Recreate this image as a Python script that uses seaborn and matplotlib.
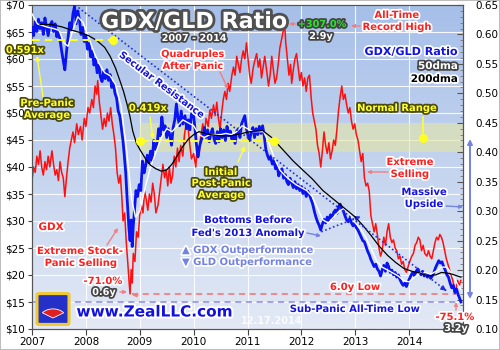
import numpy as np
import pandas as pd
import matplotlib
matplotlib.use("Agg")
import matplotlib.pyplot as plt
import matplotlib.patheffects as pe
from matplotlib.patches import Rectangle, FancyBboxPatch, Wedge
from matplotlib.colors import LinearSegmentedColormap
from matplotlib.ticker import MultipleLocator
import seaborn as sns

# ---------------- data ----------------
GDX_YEAR = [2007.00, 2007.03, 2007.06, 2007.09, 2007.12, 2007.15, 2007.18, 2007.21, 2007.24, 2007.27,
            2007.30, 2007.33, 2007.37, 2007.40, 2007.43, 2007.46, 2007.49, 2007.52, 2007.55, 2007.58,
            2007.61, 2007.64, 2007.67, 2007.70, 2007.73, 2007.76, 2007.79, 2007.83, 2007.86, 2007.90,
            2007.93, 2007.97, 2008.00, 2008.04, 2008.07, 2008.11, 2008.14, 2008.17, 2008.20, 2008.22,
            2008.25, 2008.28, 2008.31, 2008.34, 2008.37, 2008.40, 2008.43, 2008.46, 2008.49, 2008.52,
            2008.55, 2008.58, 2008.61, 2008.64, 2008.67, 2008.69, 2008.72, 2008.75, 2008.78, 2008.80,
            2008.82, 2008.84, 2008.86, 2008.88, 2008.91, 2008.94, 2008.97, 2009.00, 2009.03, 2009.06,
            2009.09, 2009.12, 2009.15, 2009.18, 2009.21, 2009.24, 2009.27, 2009.30, 2009.34, 2009.37,
            2009.40, 2009.43, 2009.46, 2009.49, 2009.52, 2009.55, 2009.58, 2009.61, 2009.64, 2009.67,
            2009.70, 2009.73, 2009.76, 2009.80, 2009.83, 2009.87, 2009.90, 2009.93, 2009.96, 2010.00,
            2010.04, 2010.07, 2010.10, 2010.13, 2010.17, 2010.20, 2010.23, 2010.27, 2010.30, 2010.33,
            2010.37, 2010.40, 2010.43, 2010.46, 2010.49, 2010.52, 2010.55, 2010.58, 2010.61, 2010.64,
            2010.67, 2010.71, 2010.74, 2010.77, 2010.80, 2010.83, 2010.86, 2010.89, 2010.92, 2010.95,
            2010.98, 2011.01, 2011.04, 2011.07, 2011.10, 2011.13, 2011.17, 2011.20, 2011.23, 2011.26,
            2011.29, 2011.32, 2011.36, 2011.39, 2011.42, 2011.45, 2011.48, 2011.51, 2011.54, 2011.57,
            2011.60, 2011.63, 2011.66, 2011.69, 2011.71, 2011.74, 2011.77, 2011.80, 2011.82, 2011.85,
            2011.88, 2011.91, 2011.94, 2011.97, 2012.00, 2012.03, 2012.06, 2012.09, 2012.12, 2012.15,
            2012.18, 2012.21, 2012.24, 2012.27, 2012.30, 2012.33, 2012.36, 2012.39, 2012.42, 2012.45,
            2012.48, 2012.51, 2012.54, 2012.57, 2012.60, 2012.63, 2012.66, 2012.69, 2012.72, 2012.75,
            2012.78, 2012.81, 2012.84, 2012.87, 2012.90, 2012.93, 2012.96, 2012.99, 2013.02, 2013.05,
            2013.08, 2013.11, 2013.14, 2013.17, 2013.20, 2013.23, 2013.26, 2013.29, 2013.32, 2013.35,
            2013.38, 2013.41, 2013.44, 2013.47, 2013.50, 2013.53, 2013.56, 2013.59, 2013.62, 2013.65,
            2013.68, 2013.71, 2013.74, 2013.77, 2013.80, 2013.83, 2013.86, 2013.89, 2013.92, 2013.95,
            2013.98, 2014.01, 2014.05, 2014.08, 2014.11, 2014.14, 2014.17, 2014.20, 2014.23, 2014.26,
            2014.29, 2014.33, 2014.36, 2014.39, 2014.42, 2014.45, 2014.48, 2014.51, 2014.54, 2014.57,
            2014.60, 2014.63, 2014.66, 2014.69, 2014.72, 2014.75, 2014.78, 2014.81, 2014.84, 2014.86,
            2014.88, 2014.90, 2014.93, 2014.96]
GDX_PRICE = [37.5, 40.0, 39.0, 42.0, 40.5, 43.0, 40.0, 38.5, 41.0, 39.5,
             42.0, 40.0, 43.0, 40.5, 38.5, 39.5, 37.5, 41.0, 39.0, 38.0,
             34.5, 38.0, 41.0, 43.5, 45.0, 46.5, 44.5, 48.0, 46.0, 47.5,
             45.0, 49.0, 47.5, 51.0, 50.0, 52.5, 51.0, 55.0, 53.5, 56.0,
             52.0, 49.5, 47.0, 49.0, 47.5, 50.0, 48.5, 51.0, 48.0, 46.0,
             43.5, 39.0, 37.0, 38.5, 34.0, 30.0, 31.5, 26.0, 22.0, 19.0,
             16.5, 21.0, 18.5, 24.0, 22.5, 28.0, 27.0, 31.0, 33.0, 31.5,
             35.5, 34.0, 32.0, 35.0, 33.5, 37.0, 35.0, 31.5, 33.0, 35.5,
             38.0, 40.5, 38.0, 39.5, 36.5, 40.0, 37.0, 38.5, 42.0, 40.0,
             43.5, 41.0, 44.0, 42.0, 46.0, 48.5, 47.0, 44.0, 41.5, 42.5,
             40.0, 44.0, 42.0, 45.5, 48.0, 46.0, 49.0, 47.5, 50.5, 49.0,
             51.5, 49.5, 52.0, 49.0, 47.0, 50.0, 52.5, 54.0, 52.5, 55.5,
             54.0, 57.0, 58.5, 57.0, 60.5, 59.0, 57.5, 60.0, 61.5, 60.0,
             63.0, 60.0, 57.0, 55.5, 58.0, 59.5, 61.0, 58.5, 60.0, 56.5,
             58.5, 60.5, 57.5, 55.0, 57.0, 60.5, 58.0, 55.5, 56.5, 59.0,
             62.0, 63.5, 65.0, 66.3, 63.0, 60.0, 57.0, 59.0, 55.5, 58.0,
             60.0, 61.0, 58.5, 56.0, 57.5, 55.0, 56.5, 54.0, 56.5, 57.0,
             53.0, 50.0, 48.5, 47.0, 44.0, 42.5, 40.0, 43.0, 46.5, 44.0,
             42.5, 44.5, 41.5, 43.0, 45.0, 44.0, 47.0, 50.5, 53.0, 55.0,
             52.5, 53.5, 51.5, 50.0, 51.0, 48.5, 47.0, 48.0, 46.0, 45.0,
             43.0, 41.0, 42.5, 38.0, 36.5, 37.0, 35.5, 31.0, 29.5, 28.0,
             29.5, 27.5, 25.0, 23.5, 24.5, 27.0, 25.5, 28.0, 29.5, 27.0,
             26.0, 26.5, 25.0, 24.5, 23.0, 23.5, 22.0, 22.5, 21.0, 20.5,
             21.5, 22.5, 23.5, 24.0, 25.5, 26.0, 27.0, 26.5, 24.5, 25.5,
             24.0, 23.5, 24.5, 23.5, 23.0, 24.5, 26.0, 27.0, 26.5, 27.5,
             27.0, 26.0, 24.5, 23.0, 22.0, 21.0, 20.0, 19.0, 17.5, 16.5,
             18.0, 19.0, 18.0, 19.0]

RATIO_YEAR = [2007.00, 2007.03, 2007.06, 2007.09, 2007.12, 2007.15, 2007.18, 2007.21, 2007.24, 2007.27,
              2007.30, 2007.33, 2007.37, 2007.40, 2007.43, 2007.46, 2007.49, 2007.52, 2007.55, 2007.58,
              2007.61, 2007.64, 2007.67, 2007.70, 2007.73, 2007.76, 2007.79, 2007.82, 2007.85, 2007.88,
              2007.91, 2007.94, 2007.97, 2008.00, 2008.03, 2008.06, 2008.09, 2008.12, 2008.15, 2008.18,
              2008.21, 2008.24, 2008.27, 2008.30, 2008.33, 2008.36, 2008.39, 2008.42, 2008.45, 2008.48,
              2008.51, 2008.54, 2008.57, 2008.60, 2008.63, 2008.66, 2008.69, 2008.71, 2008.74, 2008.76,
              2008.78, 2008.80, 2008.82, 2008.84, 2008.86, 2008.88, 2008.90, 2008.93, 2008.96, 2008.99,
              2009.02, 2009.05, 2009.08, 2009.11, 2009.14, 2009.17, 2009.20, 2009.23, 2009.26, 2009.29,
              2009.32, 2009.35, 2009.38, 2009.41, 2009.44, 2009.47, 2009.50, 2009.53, 2009.56, 2009.59,
              2009.62, 2009.65, 2009.68, 2009.71, 2009.74, 2009.77, 2009.80, 2009.84, 2009.87, 2009.90,
              2009.93, 2009.96, 2009.99, 2010.02, 2010.05, 2010.08, 2010.11, 2010.14, 2010.17, 2010.20,
              2010.23, 2010.26, 2010.29, 2010.32, 2010.35, 2010.38, 2010.41, 2010.44, 2010.47, 2010.50,
              2010.53, 2010.56, 2010.59, 2010.62, 2010.65, 2010.68, 2010.71, 2010.74, 2010.77, 2010.80,
              2010.83, 2010.86, 2010.89, 2010.92, 2010.95, 2010.98, 2011.01, 2011.04, 2011.07, 2011.10,
              2011.13, 2011.16, 2011.19, 2011.22, 2011.25, 2011.28, 2011.31, 2011.34, 2011.37, 2011.40,
              2011.43, 2011.46, 2011.49, 2011.52, 2011.55, 2011.58, 2011.61, 2011.64, 2011.67, 2011.70,
              2011.73, 2011.76, 2011.79, 2011.82, 2011.85, 2011.88, 2011.91, 2011.94, 2011.97, 2012.00,
              2012.03, 2012.06, 2012.09, 2012.12, 2012.15, 2012.18, 2012.21, 2012.24, 2012.27, 2012.30,
              2012.33, 2012.36, 2012.39, 2012.42, 2012.45, 2012.48, 2012.51, 2012.54, 2012.57, 2012.60,
              2012.63, 2012.66, 2012.69, 2012.72, 2012.75, 2012.78, 2012.81, 2012.84, 2012.87, 2012.90,
              2012.93, 2012.96, 2012.99, 2013.02, 2013.05, 2013.08, 2013.11, 2013.14, 2013.17, 2013.20,
              2013.23, 2013.26, 2013.29, 2013.32, 2013.35, 2013.38, 2013.41, 2013.44, 2013.47, 2013.50,
              2013.53, 2013.56, 2013.59, 2013.62, 2013.65, 2013.68, 2013.71, 2013.74, 2013.77, 2013.80,
              2013.83, 2013.86, 2013.89, 2013.92, 2013.95, 2013.98, 2014.01, 2014.04, 2014.07, 2014.10,
              2014.13, 2014.16, 2014.19, 2014.22, 2014.25, 2014.28, 2014.31, 2014.34, 2014.37, 2014.40,
              2014.43, 2014.46, 2014.49, 2014.52, 2014.55, 2014.58, 2014.61, 2014.64, 2014.67, 2014.70,
              2014.73, 2014.76, 2014.79, 2014.82, 2014.85, 2014.88, 2014.91, 2014.93, 2014.96]
RATIO = [0.612, 0.598, 0.622, 0.605, 0.626, 0.610, 0.620, 0.600, 0.628, 0.612,
         0.598, 0.615, 0.622, 0.605, 0.618, 0.596, 0.606, 0.590, 0.572, 0.555,
         0.540, 0.570, 0.595, 0.620, 0.608, 0.635, 0.648, 0.618, 0.640, 0.625,
         0.600, 0.612, 0.588, 0.598, 0.575, 0.585, 0.562, 0.572, 0.548, 0.558,
         0.535, 0.548, 0.528, 0.520, 0.537, 0.525, 0.540, 0.522, 0.532, 0.510,
         0.518, 0.500, 0.492, 0.470, 0.462, 0.440, 0.418, 0.398, 0.365, 0.330,
         0.300, 0.270, 0.250, 0.285, 0.240, 0.275, 0.300, 0.335, 0.325, 0.345,
         0.335, 0.385, 0.365, 0.378, 0.395, 0.382, 0.402, 0.386, 0.420, 0.405,
         0.412, 0.440, 0.428, 0.460, 0.438, 0.445, 0.425, 0.440, 0.428, 0.412,
         0.442, 0.455, 0.482, 0.458, 0.445, 0.470, 0.448, 0.462, 0.440, 0.455,
         0.438, 0.465, 0.470, 0.445, 0.415, 0.392, 0.410, 0.420, 0.428, 0.442,
         0.425, 0.438, 0.418, 0.432, 0.440, 0.422, 0.415, 0.435, 0.418, 0.440,
         0.425, 0.438, 0.420, 0.444, 0.428, 0.436, 0.422, 0.430, 0.415, 0.436,
         0.440, 0.425, 0.448, 0.455, 0.462, 0.440, 0.428, 0.420, 0.436, 0.442,
         0.425, 0.440, 0.430, 0.444, 0.432, 0.445, 0.428, 0.405, 0.395, 0.388,
         0.392, 0.380, 0.386, 0.372, 0.378, 0.360, 0.368, 0.372, 0.356, 0.362,
         0.350, 0.345, 0.356, 0.348, 0.340, 0.350, 0.338, 0.345, 0.335, 0.342,
         0.330, 0.338, 0.325, 0.334, 0.328, 0.320, 0.312, 0.300, 0.290, 0.282,
         0.276, 0.268, 0.278, 0.286, 0.280, 0.290, 0.284, 0.294, 0.288, 0.298,
         0.302, 0.296, 0.308, 0.312, 0.304, 0.300, 0.292, 0.285, 0.282, 0.288,
         0.280, 0.275, 0.280, 0.272, 0.268, 0.262, 0.256, 0.250, 0.248, 0.240,
         0.232, 0.226, 0.218, 0.212, 0.206, 0.210, 0.202, 0.198, 0.190, 0.200,
         0.208, 0.198, 0.212, 0.206, 0.196, 0.200, 0.192, 0.196, 0.188, 0.192,
         0.184, 0.178, 0.174, 0.178, 0.172, 0.180, 0.186, 0.192, 0.196, 0.190,
         0.198, 0.202, 0.196, 0.192, 0.198, 0.190, 0.194, 0.188, 0.192, 0.186,
         0.190, 0.196, 0.204, 0.210, 0.216, 0.212, 0.214, 0.206, 0.200, 0.192,
         0.188, 0.178, 0.170, 0.174, 0.162, 0.168, 0.158, 0.154, 0.146]

DMA50_YEAR = [2007.00, 2007.10, 2007.20, 2007.30, 2007.40, 2007.50, 2007.60, 2007.67, 2007.75, 2007.85,
              2007.95, 2008.05, 2008.15, 2008.25, 2008.35, 2008.45, 2008.55, 2008.65, 2008.75, 2008.85,
              2008.92, 2009.00, 2009.10, 2009.20, 2009.30, 2009.40, 2009.50, 2009.60, 2009.70, 2009.80,
              2009.90, 2010.00, 2010.10, 2010.20, 2010.30, 2010.40, 2010.50, 2010.60, 2010.70, 2010.80,
              2010.90, 2011.00, 2011.10, 2011.20, 2011.30, 2011.40, 2011.50, 2011.60, 2011.70, 2011.80,
              2011.90, 2012.00, 2012.10, 2012.20, 2012.30, 2012.40, 2012.50, 2012.60, 2012.70, 2012.80,
              2012.90, 2013.00, 2013.10, 2013.20, 2013.30, 2013.40, 2013.50, 2013.60, 2013.70, 2013.80,
              2013.90, 2014.00, 2014.10, 2014.20, 2014.30, 2014.40, 2014.50, 2014.60, 2014.70, 2014.80,
              2014.90, 2014.96]
DMA50 = [0.635, 0.618, 0.615, 0.612, 0.610, 0.607, 0.585, 0.580, 0.605, 0.630,
         0.620, 0.595, 0.570, 0.550, 0.535, 0.530, 0.515, 0.480, 0.410, 0.320,
         0.290, 0.300, 0.340, 0.375, 0.400, 0.425, 0.440, 0.435, 0.445, 0.455,
         0.450, 0.445, 0.430, 0.425, 0.430, 0.430, 0.430, 0.432, 0.430, 0.435,
         0.445, 0.440, 0.435, 0.435, 0.435, 0.415, 0.390, 0.370, 0.360, 0.352,
         0.345, 0.340, 0.335, 0.325, 0.305, 0.285, 0.280, 0.290, 0.300, 0.305,
         0.295, 0.280, 0.270, 0.255, 0.235, 0.215, 0.205, 0.200, 0.195, 0.190,
         0.182, 0.180, 0.188, 0.195, 0.196, 0.193, 0.198, 0.205, 0.205, 0.193,
         0.176, 0.168]

DMA200_YEAR = [2007.15, 2007.35, 2007.55, 2007.75, 2007.90, 2008.05, 2008.20, 2008.35, 2008.45, 2008.55,
               2008.63, 2008.70, 2008.76, 2008.82, 2008.87, 2008.94, 2009.00, 2009.10, 2009.20, 2009.30,
               2009.40, 2009.50, 2009.60, 2009.70, 2009.80, 2009.90, 2010.00, 2010.10, 2010.30, 2010.50,
               2010.70, 2010.90, 2011.05, 2011.20, 2011.28, 2011.45, 2011.65, 2011.85, 2012.00, 2012.20,
               2012.40, 2012.60, 2012.80, 2013.00, 2013.15, 2013.30, 2013.45, 2013.60, 2013.75, 2013.90,
               2014.05, 2014.20, 2014.35, 2014.50, 2014.60, 2014.70, 2014.80, 2014.96]
DMA200 = [0.617, 0.617, 0.613, 0.607, 0.603, 0.598, 0.590, 0.578, 0.563, 0.543,
          0.522, 0.503, 0.483, 0.460, 0.436, 0.415, 0.405, 0.390, 0.378, 0.372,
          0.368, 0.370, 0.380, 0.395, 0.410, 0.422, 0.430, 0.435, 0.430, 0.428,
          0.428, 0.432, 0.435, 0.436, 0.437, 0.425, 0.405, 0.385, 0.372, 0.355,
          0.335, 0.320, 0.305, 0.290, 0.275, 0.258, 0.240, 0.225, 0.213, 0.203,
          0.198, 0.195, 0.190, 0.192, 0.196, 0.195, 0.193, 0.188]

YEAR_TICKS = [2007, 2008, 2009, 2010, 2011, 2012, 2013, 2014]
GDX_TICKS = [10, 15, 20, 25, 30, 35, 40, 45, 50, 55, 60, 65, 70]
GDX_TICK_LABELS = ["$10", "$15", "$20", "$25", "$30", "$35", "$40", "$45", "$50", "$55", "$60", "$65", "$70"]
RATIO_TICKS = [0.10, 0.15, 0.20, 0.25, 0.30, 0.35, 0.40, 0.45, 0.50, 0.55, 0.60, 0.65]
RATIO_TICK_LABELS = ["0.10", "0.15", "0.20", "0.25", "0.30", "0.35", "0.40", "0.45", "0.50", "0.55", "0.60", "0.65"]

PRE_PANIC_AVG = 0.591
POST_PANIC_AVG = 0.419
NORMAL_RANGE = (0.40, 0.45)
GDX_PANIC_LOW = 16.4
RATIO_LOW = 0.146

# ---------------- figure ----------------
W, H = 500, 350
fig = plt.figure(figsize=(5, 3.5), dpi=100)
fig.patch.set_facecolor("white")
ax = fig.add_axes([32 / W, 21 / H, 431 / W, 324 / H])
ax2 = ax.twinx()

cmap = LinearSegmentedColormap.from_list("bg", ["#e3e9f5", "#a6bfe9"])
grad = np.linspace(0, 1, 256).reshape(-1, 1)
ax.imshow(grad, extent=[0, 1, 0, 1], transform=ax.transAxes, cmap=cmap,
          aspect="auto", origin="lower", zorder=0)

ax.set_xlim(2007, 2015)
ax.set_ylim(10, 70)
ax2.set_ylim(0.10, 0.65)
ax.set_axisbelow(True)
ax.grid(True, color="white", lw=0.8, alpha=0.9)

# normal range band
ax.add_patch(Rectangle((2009.0, NORMAL_RANGE[0]), 6, NORMAL_RANGE[1] - NORMAL_RANGE[0],
                       transform=ax2.transData, facecolor="#e4e6a4", alpha=0.6,
                       edgecolor="none", zorder=0.8))

df_gdx = pd.DataFrame({"year": GDX_YEAR, "gdx": GDX_PRICE})
df_ratio = pd.DataFrame({"year": RATIO_YEAR, "ratio": RATIO})
df_50 = pd.DataFrame({"year": DMA50_YEAR, "dma": DMA50})
df_200 = pd.DataFrame({"year": DMA200_YEAR, "dma": DMA200})

# reference dashed lines
ax.plot([2008.86, 2014.86], [GDX_PANIC_LOW, GDX_PANIC_LOW], ls=(0, (4, 3)), color="#f07070", lw=1.1, zorder=2)
ax2.plot([2007.0, 2014.9], [RATIO_LOW, RATIO_LOW], ls=(0, (4, 3)), color="#8a8ae8", lw=1.1, zorder=2)

sns.lineplot(data=df_gdx, x="year", y="gdx", ax=ax, color="#ff1010", lw=1.1, sort=False, zorder=3)
sns.lineplot(data=df_ratio, x="year", y="ratio", ax=ax2, color="#0a14f0", lw=2.0, sort=False, zorder=3)
sns.lineplot(data=df_50, x="year", y="dma", ax=ax2, color="white", lw=1.0, sort=False, zorder=4)
sns.lineplot(data=df_200, x="year", y="dma", ax=ax2, color="black", lw=0.9, sort=False, zorder=4)

# secular resistance dotted line
ax2.plot([2007.80, 2014.69], [0.650, 0.165], ls=(0, (1, 1.5)), color="#2030e0", lw=1.2, zorder=5)
ax2.annotate("", xy=(2014.69, 0.165), xytext=(2014.60, 0.171),
             arrowprops=dict(arrowstyle="-|>", color="#2030e0", lw=1, mutation_scale=7, shrinkA=0, shrinkB=0))
# bottoms dotted line
ax2.plot([2012.37, 2012.7, 2013.06], [0.265, 0.277, 0.289], ls=(0, (1, 1.5)), color="#2030e0", lw=1.2, zorder=5)
ax2.annotate("", xy=(2013.10, 0.291), xytext=(2013.02, 0.288),
             arrowprops=dict(arrowstyle="-|>", color="#2030e0", lw=1, mutation_scale=7, shrinkA=0, shrinkB=0))

# yellow averages
ax2.plot([2007.0, 2008.5], [PRE_PANIC_AVG, PRE_PANIC_AVG], ls=(0, (4, 2.5)), color="#ffff20", lw=1.4, zorder=6)
ax2.plot([2009.0, 2011.5], [POST_PANIC_AVG, POST_PANIC_AVG], ls=(0, (4, 2.5)), color="#ffff20", lw=1.4, zorder=6)
ax2.plot([2008.5, 2009.0, 2011.5, 2014.25], [PRE_PANIC_AVG, POST_PANIC_AVG, POST_PANIC_AVG, 0.4245],
         ls="none", marker="o", ms=5.5, color="#ffff20", zorder=7)

# axes styling
ax.set_xticks(YEAR_TICKS)
ax.set_xticklabels([str(y) for y in YEAR_TICKS])
ax.set_yticks(GDX_TICKS)
ax.set_yticklabels(GDX_TICK_LABELS)
ax2.set_yticks(RATIO_TICKS)
ax2.set_yticklabels(RATIO_TICK_LABELS)
ax2.yaxis.set_minor_locator(MultipleLocator(0.01))
ax.set_xlabel("")
ax.set_ylabel("")
ax2.set_ylabel("")
ax.tick_params(axis="x", direction="out", length=4, labelsize=7.5, pad=2, color="#444")
ax.tick_params(axis="y", direction="out", length=3, labelsize=7.5, pad=2, color="#444")
ax2.tick_params(axis="y", which="major", direction="in", length=4, labelsize=7.5, pad=9, color="#555")
ax2.tick_params(axis="y", which="minor", direction="in", length=2, color="#777")
for a in (ax, ax2):
    for s in a.spines.values():
        s.set_color("#555")
        s.set_linewidth(0.8)


# ---------------- annotations ----------------
def T(x, y, s, color, size=7, stroke="white", sw=2.5, weight="bold", **kw):
    t = fig.text(x / W, 1 - y / H, s, color=color, fontsize=size, fontweight=weight,
                 ha=kw.pop("ha", "center"), va=kw.pop("va", "center"), zorder=10, **kw)
    if stroke:
        t.set_path_effects([pe.withStroke(linewidth=sw, foreground=stroke)])
    return t


def A(x1, y1, x2, y2, color, style="-|>", lw=1.0, ms=6):
    ax2.annotate("", xy=(x2, H - y2), xycoords="figure pixels",
                 xytext=(x1, H - y1), textcoords="figure pixels",
                 arrowprops=dict(arrowstyle=style, color=color, lw=lw, mutation_scale=ms,
                                 shrinkA=0, shrinkB=0), annotation_clip=False)


RED, BLUE, YEL, LAV = "#ff2020", "#1414e0", "#ffff30", "#7482e2"
DARK = "#444444"
YDARK = "#4a4a10"

T(194, 22, "GDX/GLD Ratio", "white", size=16, stroke="#505050", sw=4)
T(194, 38, "2007 - 2014", "white", size=7, stroke=DARK, sw=2.5)
T(322, 24, "+307.0%", "#30e030", size=7, stroke=DARK, sw=2.5)
T(321, 36, "2.9y", "white", size=7, stroke=DARK, sw=2.5)
A(296, 24, 289, 24, "#f08080", ms=5)
T(397, 15, "All-Time", RED, size=7.2)
T(397, 27, "Record High", RED, size=7.2)
A(360, 26, 351, 26, "#f08080", ms=5)
T(411, 52, "GDX/GLD Ratio", BLUE, size=8)
T(458, 66, "50dma", "white", size=7.5, stroke=DARK, sw=2.5, ha="right")
T(458, 79, "200dma", "black", size=7.5, stroke="white", sw=2.5, ha="right")
T(193, 54, "Quadruples", RED, size=7)
T(193, 66, "After Panic", RED, size=7)
A(220, 72, 228, 89, "#f08080", ms=5)
T(162, 85, "Secular Resistance", BLUE, size=7, rotation=-37, rotation_mode="anchor")
T(25, 50, "0.591x", YEL, size=7.2, stroke=YDARK, sw=2.5)
T(47, 103, "Pre-Panic", YEL, size=7.2, stroke=YDARK, sw=2.5)
T(47, 115, "Average", YEL, size=7.2, stroke=YDARK, sw=2.5)
A(43, 97, 37, 56, "#ffff40", ms=6)
T(148, 108, "0.419x", YEL, size=7.2, stroke=YDARK, sw=2.5)
A(150, 117, 153, 139, "#ffff40", ms=6)
T(221, 172, "Initial", YEL, size=7.2, stroke=YDARK, sw=2.5)
T(221, 183, "Post-Panic", YEL, size=7.2, stroke=YDARK, sw=2.5)
T(221, 195, "Average", YEL, size=7.2, stroke=YDARK, sw=2.5)
A(238, 162, 245, 146, "#ffff40", ms=6)
T(397, 108, "Normal Range", YEL, size=7.2, stroke=YDARK, sw=2.5)
ax2.annotate("", xy=(423, H - 136), xycoords="figure pixels", xytext=(423, H - 114),
             textcoords="figure pixels", arrowprops=dict(arrowstyle="-", color="#ffff30", lw=1.2))
T(410, 162, "Extreme", RED, size=7.2)
T(410, 174, "Selling", RED, size=7.2)
A(388, 172, 367, 172, "#f08080", ms=5)
T(424, 192, "Massive", BLUE, size=7.2)
T(424, 204, "Upside", BLUE, size=7.2)
A(446, 206, 463, 207, LAV, ms=5)
A(470, 200, 470, 139, LAV, lw=1.4, ms=7)
A(470, 200, 470, 299, LAV, lw=1.4, ms=7)
T(51, 227, "GDX", RED, size=7.5)
T(80, 251, "Extreme Stock-", RED, size=7.2)
T(81, 263, "Panic Selling", RED, size=7.2)
A(107, 245, 118, 228, "#f08080", ms=5)
T(103, 281, "-71.0%", RED, size=7.2)
T(104, 292, "0.6y", "white", size=7, stroke=DARK, sw=2.5)
A(120, 292, 127, 292, "#f08080", ms=5)
A(138, 295, 132, 295, "#f08080", ms=6)
T(355, 287, "6.0y Low", RED, size=7.2)
T(355, 309, "Sub-Panic All-Time Low", BLUE, size=7.2)
T(455, 317, "-75.1%", RED, size=7.2)
T(456, 328, "3.2y", "white", size=7, stroke=DARK, sw=2.5)
A(456, 310, 456, 302, "#f08080", ms=5)
T(182, 250, "\u25B2 GDX Outperformance", LAV, size=7.2, ha="left")
T(182, 262, "\u25BC GLD Outperformance", LAV, size=7.2, ha="left")
T(248, 220, "Bottoms Before", BLUE, size=7.2)
T(248, 233, "Fed's 2013 Anomaly", BLUE, size=7.2)
A(307, 233, 321, 236, LAV, ms=5)
T(154, 312, "www.ZealLLC.com", "#1010e0", size=11, stroke="white", sw=3)
T(272, 321, "12.17.2014", "white", size=7, stroke=None, alpha=0.85)

# logo
fig.add_artist(FancyBboxPatch((39 / W, 1 - 323 / H), 28 / W, 28 / H,
                              boxstyle="round,pad=0.004", transform=fig.transFigure,
                              facecolor="#2430c8", edgecolor="#f0c830", lw=2.2, zorder=9))
fig.add_artist(Wedge((53 / W, 1 - 318 / H), 0.026, 35, 145, transform=fig.transFigure,
                     facecolor="#e02020", edgecolor="white", lw=0.6, zorder=10))

fig.add_artist(Rectangle((0, 0), 1, 1, transform=fig.transFigure, fill=False,
                         edgecolor="#b0b0b0", lw=1.2, zorder=20))

fig.savefig("out.png", dpi=100)
